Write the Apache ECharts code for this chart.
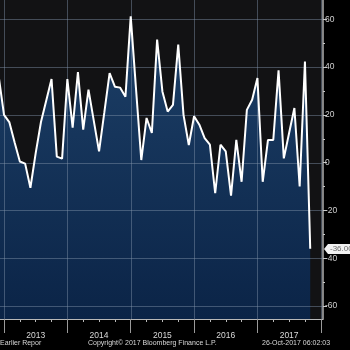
<!DOCTYPE html>
<html>
<head>
<meta charset="utf-8">
<script src="https://cdn.jsdelivr.net/npm/echarts@6/dist/echarts.min.js"></script>
<style>
html,body{margin:0;padding:0;background:#000;}
#c{width:350px;height:350px;}
</style>
</head>
<body>
<div id="c"></div>
<script>
// Month (end of month) of each observation, and the values
const months = [
  '2012-11','2012-12',
  '2013-01','2013-02','2013-03','2013-04','2013-05','2013-06','2013-07','2013-08','2013-09','2013-10','2013-11','2013-12',
  '2014-01','2014-02','2014-03','2014-04','2014-05','2014-06','2014-07','2014-08','2014-09','2014-10','2014-11','2014-12',
  '2015-01','2015-02','2015-03','2015-04','2015-05','2015-06','2015-07','2015-08','2015-09','2015-10','2015-11','2015-12',
  '2016-01','2016-02','2016-03','2016-04','2016-05','2016-06','2016-07','2016-08','2016-09','2016-10','2016-11','2016-12',
  '2017-01','2017-02','2017-03','2017-04','2017-05','2017-06','2017-07','2017-08','2017-09','2017-10'
];
const values = [
  36, 20,
  17, 8.5, 0.5, -0.4, -10.5, 4, 17, 26, 35, 2.5, 1.7, 35,
  14.7, 37.9, 13.8, 30.6, 17.6, 4.7, 21, 37.5, 31.8, 31.4, 27.6, 61.2,
  31, 1.1, 18.7, 12.4, 51.5, 29.8, 21.4, 24.2, 49.4, 20, 7.4, 19.4,
  15.9, 10.3, 7.5, -12.8, 7.5, 4.7, -13.8, 9.5, -8, 22.1, 26.3, 35.4,
  -8, 9.5, 9.5, 38.6, 1.8, 12.4, 22.9, -10, 42.3, -36
];
const years = ['2013','2014','2015','2016','2017'];
const yTicks = [-60, -40, -20, 0, 20, 40, 60];
const yMinorTicks = [-50, -30, -10, 10, 30, 50];
const lastLabel = '-36.00';
const footerLeft = 'Earlier Repor';
const footerMid = 'Copyright\u00A9 2017 Bloomberg Finance L.P.';
const footerRight = '26-Oct-2017 06:02:03';

// months since start of 2013, measured at month end
function mIdx(s){ const p = s.split('-'); return (+p[0]-2013)*12 + (+p[1]); }
const seriesData = months.map((m,i)=>[mIdx(m), values[i]]);
const yearBounds = years.map((y,i)=>i*12).concat([years.length*12]);
const yearMids = years.map((y,i)=>i*12+6);
const quarterTicks = [];
for (let q = 3; q < years.length*12; q += 3) if (q % 12 !== 0) quarterTicks.push(q);

const FONT = 'Liberation Sans';
const GRIDC = 'rgba(130,148,170,0.45)';
const XMIN = -0.76, XMAX = 60.42, YMIN = -65.44, YMAX = 68.08;
const chart = echarts.init(document.getElementById('c'), null, {renderer:'canvas'});
chart.setOption({
  animation: false,
  backgroundColor: '#000',
  grid: {left: 0, right: 27, top: 0, bottom: 31, show: true, backgroundColor: '#121214', borderWidth: 0},
  xAxis: [{
    type: 'value', min: XMIN, max: XMAX, position: 'bottom',
    axisLine: {show: true, onZero: false, lineStyle: {color: '#b8b8b8', width: 1}},
    axisTick: {show: true, customValues: yearBounds, length: 14, lineStyle: {color: '#9a9a9a'}},
    axisLabel: {show: true, customValues: yearMids, margin: 12, color: '#d8d8d8', fontSize: 8.5, fontFamily: FONT,
      formatter: v => years[Math.round((v-6)/12)]},
    splitLine: {show: false}
  },{
    type: 'value', min: XMIN, max: XMAX, position: 'bottom', offset: 0,
    axisLine: {show: false, onZero: false},
    axisTick: {show: true, customValues: quarterTicks, length: 3, lineStyle: {color: '#b8b8b8'}},
    axisLabel: {show: false},
    splitLine: {show: false}
  }],
  yAxis: [{
    type: 'value', min: YMIN, max: YMAX, position: 'right',
    axisLine: {show: true, onZero: false, lineStyle: {color: '#b0b0b0', width: 1.5}},
    axisTick: {show: true, customValues: yTicks, length: 4, inside: false, lineStyle: {color: '#c8c8c8'}},
    axisLabel: {show: true, customValues: yTicks, margin: 2, color: '#d0d0d0', fontSize: 8.5, fontFamily: FONT},
    splitLine: {show: false}
  },{
    type: 'value', min: YMIN, max: YMAX, position: 'right', offset: 0,
    axisLine: {show: false, onZero: false},
    axisTick: {show: true, customValues: yMinorTicks, length: 2, lineStyle: {color: '#c8c8c8'}},
    axisLabel: {show: false},
    splitLine: {show: false}
  }],
  series: [{
    // filled area under the line
    type: 'line', z: 1,
    data: seriesData,
    showSymbol: false, clip: true,
    lineStyle: {width: 0, opacity: 0},
    areaStyle: {origin: 'start', opacity: 1, color: new echarts.graphic.LinearGradient(0,0,0,1,[
      {offset: 0, color: '#1d4068'}, {offset: 1, color: '#0b2447'}])}
  },{
    // horizontal grid lines
    type: 'custom', z: 2, silent: true, clip: false,
    data: yTicks.map(v=>[XMIN, v]), encode: {x: 0, y: 1},
    renderItem: (p, api) => {
      const v = api.value(1);
      const a = api.coord([XMIN, v]), b = api.coord([XMAX, v]);
      const y = Math.round(a[1]) + 0.5;
      return {type: 'line', shape: {x1: a[0], y1: y, x2: b[0], y2: y},
        style: {stroke: GRIDC, lineWidth: 1, fill: null}};
    }
  },{
    // vertical grid lines at year boundaries
    type: 'custom', z: 2, silent: true, clip: false,
    data: yearBounds.map(v=>[v, YMIN]), encode: {x: 0, y: 1},
    renderItem: (p, api) => {
      const v = api.value(0);
      const a = api.coord([v, YMAX]), b = api.coord([v, YMIN]);
      const x = Math.round(a[0]) + 0.5;
      return {type: 'line', shape: {x1: x, y1: a[1], x2: x, y2: b[1]},
        style: {stroke: GRIDC, lineWidth: 1, fill: null}};
    }
  },{
    // the white line
    type: 'line', z: 3,
    data: seriesData,
    showSymbol: false, clip: false,
    lineStyle: {color: '#ffffff', width: 2}
  },{
    // last value tag on the value axis
    type: 'custom', z: 5, silent: true, clip: false,
    data: [seriesData[seriesData.length-1]], encode: {x: 0, y: 1},
    renderItem: (p, api) => {
      const pt = api.coord([XMAX, api.value(1)]);
      const x0 = pt[0] + 1, y0 = Math.round(pt[1]);
      return {type: 'group', children: [
        {type: 'polygon', shape: {points: [[x0, y0], [x0+4, y0-5], [x0+40, y0-5], [x0+40, y0+5], [x0+4, y0+5]]},
          style: {fill: '#f2f2f2'}},
        {type: 'text', x: x0 + 6, y: y0, style: {text: lastLabel, fill: '#6a6a6a',
          font: '8px "' + FONT + '"', verticalAlign: 'middle', align: 'left'}}
      ]};
    }
  }],
  graphic: [
    {type: 'text', left: 0, top: 340, style: {text: footerLeft, fill: '#d8d8d8', font: '7px "' + FONT + '"'}},
    {type: 'text', left: 88, top: 340, style: {text: footerMid, fill: '#d8d8d8', font: '7px "' + FONT + '"'}},
    {type: 'text', left: 262, top: 340, style: {text: footerRight, fill: '#d8d8d8', font: '7px "' + FONT + '"'}}
  ]
});
</script>
</body>
</html>
